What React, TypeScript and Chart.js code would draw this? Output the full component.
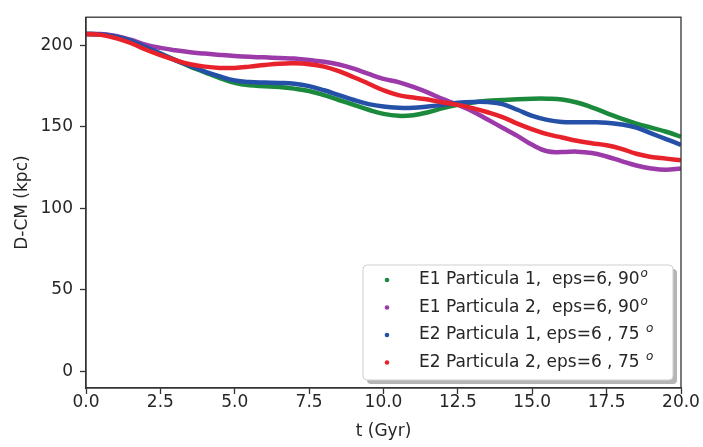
import React, { useEffect, useRef } from "react";
import { Chart, registerables } from "chart.js";

Chart.register(...registerables);

// Time samples (Gyr)
const tValues = [
  0, 0.5, 1, 1.5, 2, 2.5, 3, 3.5, 4, 4.5, 5, 5.5, 6, 6.5, 7, 7.5, 8, 8.5, 9, 9.5,
  10, 10.5, 11, 11.5, 12, 12.5, 13, 13.5, 14, 14.5, 15, 15.5, 16, 16.5, 17, 17.5,
  18, 18.5, 19, 19.5, 20,
];

// Distance to centre of mass (kpc) for each run
const e1p1 = [
  207, 206.8, 205.5, 203, 199, 195, 191, 187, 183.5, 180, 177, 175.5, 175, 174.5,
  173.5, 172, 169.5, 166.5, 163.5, 160.5, 158, 156.8, 157.2, 159, 161.5, 163.5, 165,
  166, 166.5, 167, 167.3, 167.3, 166.8, 165, 162, 158.5, 155, 152, 149.5, 147, 144,
];
const e1p2 = [
  207, 207, 205.8, 203.5, 200.5, 198.5, 197, 195.8, 195, 194.2, 193.5, 193, 192.7,
  192.3, 192, 191, 190, 188.3, 185.8, 182.5, 179.5, 177.5, 174.5, 171, 167, 163.5,
  159.5, 154.5, 149.5, 144.5, 139, 135, 134.5, 134.8, 134, 131.8, 129, 126.3, 124.5,
  123.7, 124.5,
];
const e2p1 = [
  207, 206.8, 205.5, 203, 199, 195, 191, 187.5, 184, 181, 178.5, 177.5, 177.2, 177,
  176.5, 175, 172.5, 169.5, 166.5, 164, 162.5, 161.8, 161.7, 162.5, 163.5, 164.8,
  165.3, 165.2, 164, 160.5, 156.7, 154.3, 153, 152.8, 152.8, 152.6, 151.5, 149.5,
  146, 142.5, 139,
];
const e2p2 = [
  207, 206.5, 204.5, 201.5, 197.5, 194, 191, 188.5, 187, 186.2, 186.2, 187, 188,
  188.8, 189, 188.5, 187, 184.2, 180.5, 176.5, 172.5, 169.5, 168, 166.8, 165, 163.5,
  161.5, 159, 156, 152, 148.5, 145.5, 143.5, 141.5, 140, 138.7, 136.5, 133.5, 131.5,
  130.5, 129.5,
];

const xTicks = [0, 2.5, 5, 7.5, 10, 12.5, 15, 17.5, 20];
const yTicks = [0, 50, 100, 150, 200];

const seriesLabels = [
  "E1 Particula 1,  eps=6, 90",
  "E1 Particula 2,  eps=6, 90",
  "E2 Particula 1, eps=6 , 75 ",
  "E2 Particula 2, eps=6 , 75 ",
];
const seriesSuffix = ["o", "o", "o", "o"];
const seriesColors = ["#1b8a3c", "#9b3aa8", "#2450a8", "#e8222b"];
const seriesValues = [e1p1, e1p2, e2p1, e2p2];

const FONT = "'DejaVu Sans', sans-serif";
const AXIS_COLOR = "#333333";
const TEXT_COLOR = "#262626";

// Frame around the plot area plus an in-plot legend box with a drop shadow
const framePlugin = {
  id: "frameAndLegend",
  afterDraw(chart: any) {
    const { ctx, chartArea } = chart;
    const { left, top, right, bottom } = chartArea;
    ctx.save();
    ctx.strokeStyle = AXIS_COLOR;
    ctx.lineWidth = 1.3;
    ctx.strokeRect(left, top, right - left, bottom - top);

    // legend box
    const bx = 363;
    const by = 265;
    const bw = 310;
    const bh = 115;
    const r = 4;
    const roundRect = (x: number, y: number, w: number, h: number) => {
      ctx.beginPath();
      ctx.moveTo(x + r, y);
      ctx.lineTo(x + w - r, y);
      ctx.quadraticCurveTo(x + w, y, x + w, y + r);
      ctx.lineTo(x + w, y + h - r);
      ctx.quadraticCurveTo(x + w, y + h, x + w - r, y + h);
      ctx.lineTo(x + r, y + h);
      ctx.quadraticCurveTo(x, y + h, x, y + h - r);
      ctx.lineTo(x, y + r);
      ctx.quadraticCurveTo(x, y, x + r, y);
      ctx.closePath();
    };
    roundRect(bx + 4, by + 4, bw, bh);
    ctx.fillStyle = "rgba(120,120,120,0.55)";
    ctx.fill();
    roundRect(bx, by, bw, bh);
    ctx.fillStyle = "#ffffff";
    ctx.fill();
    ctx.strokeStyle = "#cfcfcf";
    ctx.lineWidth = 1;
    ctx.stroke();

    const rowY0 = 280;
    const rowGap = 27.5;
    seriesLabels.forEach((label, i) => {
      const cy = rowY0 + i * rowGap;
      ctx.beginPath();
      ctx.arc(387, cy, 2.3, 0, Math.PI * 2);
      ctx.fillStyle = seriesColors[i];
      ctx.fill();
      ctx.fillStyle = TEXT_COLOR;
      ctx.font = `17px ${FONT}`;
      ctx.textAlign = "left";
      ctx.textBaseline = "middle";
      ctx.fillText(label, 419, cy);
      const w = ctx.measureText(label).width;
      ctx.font = `italic 12px ${FONT}`;
      ctx.fillText(seriesSuffix[i], 419 + w + 1, cy - 6);
    });
    ctx.restore();
  },
};

export default function App() {
  const canvasRef = useRef<HTMLCanvasElement | null>(null);

  useEffect(() => {
    document.body.style.margin = "0";
    const canvas = canvasRef.current;
    if (!canvas) return;

    const datasets = seriesValues.map((vals, i) => ({
      label: seriesLabels[i] + seriesSuffix[i],
      data: tValues.map((t, j) => ({ x: t, y: vals[j] })),
      borderColor: seriesColors[i],
      backgroundColor: seriesColors[i],
      borderWidth: 4.5,
      pointRadius: 0,
      tension: 0.4,
      fill: false,
      order: 4 - i,
    }));

    const chart = new Chart(canvas, {
      type: "line",
      data: { datasets },
      plugins: [framePlugin],
      options: {
        responsive: false,
        animation: false,
        devicePixelRatio: 1,
        layout: { padding: { left: 0, top: 4, right: 22, bottom: 0 } },
        plugins: {
          legend: { display: false },
          tooltip: { enabled: false },
        },
        scales: {
          x: {
            type: "linear",
            min: 0,
            max: 20,
            afterBuildTicks: (s: any) => {
              s.ticks = xTicks.map((v) => ({ value: v }));
            },
            afterFit: (s: any) => {
              s.height = 59;
            },
            ticks: {
              callback: (v: any) => Number(v).toFixed(1),
              font: { family: FONT, size: 17 },
              color: TEXT_COLOR,
              padding: -2,
              maxRotation: 0,
              autoSkip: false,
            },
            grid: {
              drawOnChartArea: false,
              drawTicks: true,
              tickLength: 6,
              tickWidth: 1.3,
              tickColor: AXIS_COLOR,
            },
            border: { display: true, color: AXIS_COLOR, width: 1.3 },
            title: {
              display: true,
              text: "t (Gyr)",
              font: { family: FONT, size: 17 },
              color: TEXT_COLOR,
              padding: { top: 0, bottom: 5 },
            },
          },
          y: {
            type: "linear",
            min: -10.35,
            max: 217.35,
            afterBuildTicks: (s: any) => {
              s.ticks = yTicks.map((v) => ({ value: v }));
            },
            afterFit: (s: any) => {
              s.width = 86;
            },
            ticks: {
              font: { family: FONT, size: 17 },
              color: TEXT_COLOR,
              padding: 7,
              autoSkip: false,
            },
            grid: {
              drawOnChartArea: false,
              drawTicks: true,
              tickLength: 6,
              tickWidth: 1.3,
              tickColor: AXIS_COLOR,
            },
            border: { display: true, color: AXIS_COLOR, width: 1.3 },
            title: {
              display: true,
              text: "D-CM (kpc)",
              font: { family: FONT, size: 17 },
              color: TEXT_COLOR,
              padding: { top: 12, bottom: 0 },
            },
          },
        },
      },
    });

    return () => {
      chart.destroy();
    };
  }, []);

  return (
    <div style={{ width: 703, height: 447, background: "#ffffff" }}>
      <canvas ref={canvasRef} width={703} height={447} />
    </div>
  );
}
